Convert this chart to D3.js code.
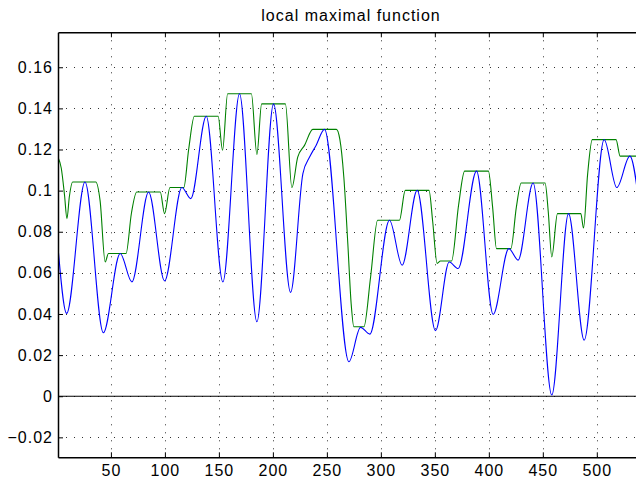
<!DOCTYPE html>
<html><head><meta charset="utf-8">
<script src="https://cdn.jsdelivr.net/npm/d3@7"></script>
<style>body{margin:0;background:#fff}</style>
</head><body>
<svg id="c" width="636" height="478"></svg>
<script>
const titleText = "local maximal function";
const xTicks = [50,100,150,200,250,300,350,400,450,500];
const yTicks = [-0.02,0,0.02,0.04,0.06,0.08,0.1,0.12,0.14,0.16];
const yTickLabels = ["\u22120.02","0","0.02","0.04","0.06","0.08","0.1","0.12","0.14","0.16"];

// blue signal: read extrema and shoulder points
const blueX = [1,9,26,43,58.6,69.4,84.9,99.7,115.7,124,138.3,153.7,169.1,185.2,200.6,216.4,227.8,234,240,247.8,270.4,281.2,289.8,308,319.7,333.6,350.6,363.3,371.6,388.6,404,418.5,427.1,441,458.3,473.8,488.3,506.8,518.5,530.6,540];
const blueY = [0.0726,0.0403,0.1042,0.0309,0.0694,0.0556,0.0993,0.0561,0.1015,0.0961,0.1362,0.0556,0.1471,0.0362,0.1422,0.0505,0.1083,0.1163,0.1220,0.1298,0.0168,0.0335,0.0302,0.0856,0.0637,0.1001,0.0319,0.0653,0.0621,0.1095,0.0398,0.0718,0.0662,0.1037,0.0006,0.0888,0.0273,0.1248,0.1015,0.1168,0.090];

// green local maximal function
const greenX = [1,4,7,9.3,11.5,14.5,36,40,44.7,47.7,64,69,73.9,95.7,99.7,104.7,117.5,122,127.3,149.3,153.4,158.1,180.1,185.2,189.6,211.6,217.6,223,229.3,237,258.8,262,265.7,269.4,272.5,275,284.3,290.5,297,317.2,322.6,344.6,348,352.1,355.2,365.5,372,377.6,399.6,403.5,407.1,420.4,425.5,430,452.1,455,458.3,463.6,485.2,487.7,491.5,495.8,517.8,521.6,540];
const greenY = [0.1163,0.111,0.098,0.0864,0.097,0.1042,0.1042,0.095,0.0653,0.0694,0.0694,0.089,0.0993,0.0993,0.0888,0.1015,0.1015,0.120,0.1362,0.1362,0.1196,0.1471,0.1471,0.1176,0.1422,0.1422,0.1015,0.1163,0.1220,0.1298,0.1298,0.125,0.1066,0.0743,0.045,0.0338,0.0338,0.058,0.0856,0.0856,0.1001,0.1001,0.085,0.0646,0.0658,0.0658,0.093,0.1095,0.1095,0.092,0.0718,0.0718,0.092,0.1037,0.1037,0.090,0.0678,0.0888,0.0888,0.0818,0.108,0.1248,0.1248,0.1168,0.1168];

const svg = d3.select("#c");
const L = 58, R = 640, T = 32.3, B = 457.3;
const x = d3.scaleLinear().domain([1,540]).range([L,R]);
const y = d3.scaleLinear().domain([-0.0297,0.177]).range([B,T]);
const font = "'Liberation Sans', Arial, Helvetica, sans-serif";

svg.append("defs").append("clipPath").attr("id","clip")
  .append("rect").attr("x",L).attr("y",T).attr("width",R-L).attr("height",B-T);

// grid
const grid = svg.append("g").attr("stroke","#333").attr("stroke-width",1).attr("stroke-dasharray","1,7");
grid.selectAll("line.v").data(xTicks).join("line").attr("class","v")
  .attr("x1",d=>Math.round(x(d))+0.5).attr("x2",d=>Math.round(x(d))+0.5).attr("y1",T).attr("y2",B);
grid.selectAll("line.h").data(yTicks).join("line").attr("class","h")
  .attr("x1",L).attr("x2",R).attr("y1",d=>Math.round(y(d))+0.5).attr("y2",d=>Math.round(y(d))+0.5);

const plot = svg.append("g").attr("clip-path","url(#clip)");
// zero line
plot.append("line").attr("x1",L).attr("x2",R).attr("y1",y(0)).attr("y2",y(0))
  .attr("stroke","#000").attr("stroke-width",1.2);

const blue = blueX.map((d,i)=>[d,blueY[i]]);
const green = greenX.map((d,i)=>[d,greenY[i]]);
plot.append("path").datum(green).attr("fill","none").attr("stroke","#008000").attr("stroke-width",1.1)
  .attr("d", d3.line().x(d=>x(d[0])).y(d=>y(d[1])).curve(d3.curveMonotoneX));
plot.append("path").datum(blue).attr("fill","none").attr("stroke","#0000ff").attr("stroke-width",1.1)
  .attr("d", d3.line().x(d=>x(d[0])).y(d=>y(d[1])).curve(d3.curveMonotoneX));

// axes
const ax = svg.append("g").attr("font-family",font);
const gl = ax.append("g").attr("transform",`translate(${L},0)`)
  .call(d3.axisLeft(y).tickValues(yTicks).tickFormat((d,i)=>yTickLabels[i]).tickSize(-5).tickSizeOuter(0).tickPadding(5));
const gb = ax.append("g").attr("transform",`translate(0,${B})`)
  .call(d3.axisBottom(x).tickValues(xTicks).tickFormat(d3.format("d")).tickSize(-5).tickSizeOuter(0).tickPadding(7));
const gt = ax.append("g").attr("transform",`translate(0,${T})`)
  .call(d3.axisTop(x).tickValues(xTicks).tickFormat("").tickSize(-5).tickSizeOuter(0));
[gl,gb,gt].forEach(g=>{
  g.selectAll(".domain").attr("stroke","#000").attr("stroke-width",1.5);
  g.selectAll(".tick line").attr("stroke","#000").attr("stroke-width",1);
  g.selectAll("text").attr("font-size",16).attr("fill","#000").style("letter-spacing","1px").attr("font-family",font);
});

svg.append("text").attr("x",(L+R)/2+2).attr("y",21).attr("text-anchor","middle")
  .attr("font-family",font).attr("font-size",16).style("letter-spacing","1px").attr("fill","#000").text(titleText);
</script>
</body></html>
